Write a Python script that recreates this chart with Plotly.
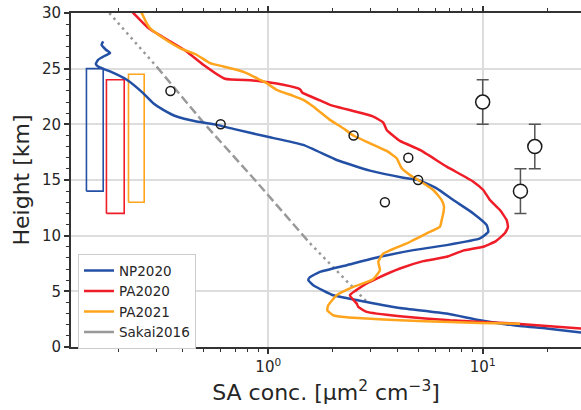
import plotly.graph_objects as go
import math

# ---------------- data ----------------
np2020_h = [27.45, 27.15, 26.70, 26.40, 26.16, 25.80, 25.44, 25.20, 24.99, 24.75,
            24.00, 22.80, 21.90, 21.30, 20.70, 20.25, 19.95, 19.59, 18.90, 18.15,
            16.80, 15.84, 15.21, 15.00, 14.25, 13.20, 12.00, 10.95, 10.35, 9.75,
            9.15, 8.70, 8.10, 7.35, 6.75, 6.27, 6.00, 5.55, 4.65, 4.05,
            3.51, 3.01, 2.40, 1.95, 1.66, 1.30, 1.14]
np2020_v = [0.170, 0.167, 0.175, 0.183, 0.173, 0.161, 0.157, 0.161, 0.170, 0.183,
            0.219, 0.261, 0.291, 0.324, 0.374, 0.463, 0.575, 0.687, 0.983, 1.456,
            2.085, 2.981, 4.263, 5.007, 6.101, 7.293, 9.040, 10.44, 10.62, 9.714,
            6.795, 4.747, 3.319, 2.321, 1.742, 1.565, 1.537, 1.622, 2.010, 2.877,
            4.114, 6.795, 9.714, 13.89, 19.89, 28.74, 35.25]

pa2020_h = [30.48, 30.00, 28.65, 27.45, 26.55, 25.35, 24.09, 23.94, 23.55, 23.16,
            22.83, 22.15, 21.75, 20.70, 20.16, 19.50, 18.51, 17.70, 16.20, 14.85,
            14.10, 13.20, 12.30, 11.40, 10.77, 10.23, 9.51, 9.00, 8.66, 8.10,
            7.71, 7.05, 6.15, 5.70, 4.65, 3.91, 3.60, 3.15, 2.76, 2.40,
            2.11, 1.66, 1.55]
pa2020_v = [0.222, 0.235, 0.276, 0.348, 0.416, 0.498, 0.628, 0.851, 1.175, 1.406,
            1.444, 1.742, 1.940, 3.089, 3.439, 3.567, 4.114, 5.100, 6.795, 9.040,
            10.06, 10.81, 12.04, 12.94, 13.12, 12.71, 11.53, 10.06, 8.120, 6.795,
            5.284, 4.114, 3.203, 2.877, 2.405, 2.585, 2.629, 2.877, 4.114, 7.039,
            13.89, 28.74, 35.25]

pa2021_h = [30.48, 30.00, 29.10, 28.65, 27.75, 26.85, 26.25, 25.50, 25.20, 24.90,
            24.60, 24.00, 23.70, 23.10, 22.56, 22.20, 21.60, 21.12, 20.40, 19.65,
            19.00, 18.30, 17.61, 16.95, 16.05, 15.45, 15.00, 14.10, 13.20, 12.60,
            12.00, 11.40, 10.80, 10.20, 9.60, 9.30, 8.40, 7.65, 6.90, 6.09,
            5.40, 4.65, 3.75, 3.30, 2.85, 2.67, 2.56, 2.40, 2.25, 2.16, 2.09]
pa2021_v = [0.247, 0.257, 0.271, 0.281, 0.324, 0.387, 0.463, 0.535, 0.617, 0.712,
            0.793, 0.915, 0.983, 1.094, 1.308, 1.456, 1.622, 1.742, 1.940, 2.238,
            2.491, 2.981, 3.567, 3.971, 4.190, 4.580, 5.007, 5.883, 6.439, 6.600,
            6.550, 6.439, 6.322, 5.482, 4.747, 4.421, 3.439, 3.259, 3.319, 3.089,
            2.491, 2.085, 1.905, 1.885, 2.010, 2.321, 2.877, 4.114, 7.039, 9.714, 14.93]

# Sakai2016 profile: upper (dotted), middle (dashed), lower (dotted)
sakai_upper_h = [30.0, 28.93, 25.18]
sakai_upper_v = [0.1815, 0.2034, 0.3017]
sakai_mid_h = [25.18, 20.0, 15.0, 9.32]
sakai_mid_v = [0.3017, 0.507, 0.867, 1.565]
sakai_lower_h = [9.32, 3.93]
sakai_lower_v = [1.565, 2.927]

# range boxes (x from-to, height from-to)
box_names = ["NP2020", "PA2020", "PA2021"]
box_x0 = [0.142, 0.176, 0.223]
box_x1 = [0.170, 0.213, 0.264]
box_h0 = [14.0, 12.0, 13.0]
box_h1 = [25.0, 24.0, 24.5]

# small open circles
pts_v = [0.35, 0.60, 2.5, 4.5, 5.0, 3.5]
pts_h = [23.0, 20.0, 19.0, 17.0, 15.0, 13.0]

# large circles with error bars
big_v = [10.0, 17.5, 15.0]
big_h = [22.0, 18.0, 14.0]
big_err = [2.0, 2.0, 2.0]

series_names = ["NP2020", "PA2020", "PA2021", "Sakai2016"]
colors = {"NP2020": "#2350a5", "PA2020": "#ee1d27", "PA2021": "#ffa41c", "Sakai2016": "#999999"}

x_tickvals = [1, 10]
x_ticktext = ["10<sup>0</sup>", "10<sup>1</sup>"]
x_minor = [0.2, 0.3, 0.4, 0.5, 0.6, 0.7, 0.8, 0.9, 2, 3, 4, 5, 6, 7, 8, 9, 20]
y_tickvals = [0, 5, 10, 15, 20, 25, 30]
x_range = [0.1203, 28.74]
y_range = [0, 30]

# ---------------- figure ----------------
fig = go.Figure()
FONT = "DejaVu Sans"
TXT = "#262626"

# boxes
for name, a, b, c, d in zip(box_names, box_x0, box_x1, box_h0, box_h1):
    fig.add_trace(go.Scatter(x=[a, b, b, a, a], y=[c, c, d, d, c], mode="lines",
                             line=dict(color=colors[name], width=1.6),
                             showlegend=False, hoverinfo="skip"))

# Sakai
fig.add_trace(go.Scatter(x=sakai_upper_v, y=sakai_upper_h, mode="lines",
                         line=dict(color=colors["Sakai2016"], width=2.5, dash="2.5px,4px"),
                         showlegend=False))
fig.add_trace(go.Scatter(x=sakai_mid_v, y=sakai_mid_h, mode="lines",
                         line=dict(color=colors["Sakai2016"], width=2.5, dash="9px,4px"),
                         showlegend=False))
fig.add_trace(go.Scatter(x=sakai_lower_v, y=sakai_lower_h, mode="lines",
                         line=dict(color=colors["Sakai2016"], width=2.5, dash="2.5px,4px"),
                         showlegend=False))

# profiles
for name, xv, yv in [("NP2020", np2020_v, np2020_h),
                     ("PA2020", pa2020_v, pa2020_h),
                     ("PA2021", pa2021_v, pa2021_h)]:
    fig.add_trace(go.Scatter(x=xv, y=yv, mode="lines", name=name,
                             line=dict(color=colors[name], width=2.5, shape="spline", smoothing=0.4)))

# legend entry for Sakai
fig.add_trace(go.Scatter(x=[None], y=[None], mode="lines", name="Sakai2016",
                         line=dict(color=colors["Sakai2016"], width=2.5, dash="solid")))

# points
fig.add_trace(go.Scatter(x=pts_v, y=pts_h, mode="markers", showlegend=False,
                         marker=dict(symbol="circle-open", size=9, color="#1a1a1a",
                                     line=dict(width=1.5, color="#1a1a1a"))))
fig.add_trace(go.Scatter(x=big_v, y=big_h, mode="markers", showlegend=False,
                         error_y=dict(type="data", array=big_err, color="#555555",
                                      thickness=1.5, width=6),
                         marker=dict(symbol="circle", size=14, color="white",
                                     line=dict(width=1.5, color="#1a1a1a"))))

fig.update_layout(
    width=581, height=410,
    margin=dict(l=71, r=0, t=13, b=63, autoexpand=False),
    paper_bgcolor="white", plot_bgcolor="white",
    font=dict(family=FONT, size=15, color=TXT),
    showlegend=True,
    legend=dict(x=0.0137, y=0.278, xanchor="left", yanchor="top",
                bgcolor="white", bordercolor="#cccccc", borderwidth=1,
                font=dict(size=13.5, color=TXT)),
)
fig.update_xaxes(
    type="log", range=[math.log10(x_range[0]), math.log10(x_range[1])],
    automargin=False,
    tickvals=x_tickvals, ticktext=x_ticktext,
    ticks="outside", ticklen=5, tickwidth=1.5, tickcolor="#333333",
    showline=True, linecolor="#333333", linewidth=1.8, mirror="ticks",
    showgrid=True, gridcolor="#dddddd", gridwidth=1.5,
    zeroline=False,
    minor=dict(tickvals=x_minor, ticks="outside", ticklen=3, tickwidth=1,
               tickcolor="#333333", showgrid=False),
    title=dict(text="SA conc. [μm<sup>2</sup> cm<sup>−3</sup>]", font=dict(size=22, color=TXT),
               standoff=10),
    tickfont=dict(size=15, color=TXT),
)
fig.update_yaxes(
    range=y_range, tickvals=y_tickvals, automargin=False,
    ticks="outside", ticklen=5, tickwidth=1.5, tickcolor="#333333",
    showline=True, linecolor="#333333", linewidth=1.8,
    showgrid=True, gridcolor="#dddddd", gridwidth=1.5, zeroline=False,
    minor=dict(dtick=1, ticks="outside", ticklen=3, tickwidth=1,
               tickcolor="#333333", showgrid=False),
    title=dict(text="Height [km]", font=dict(size=22, color=TXT), standoff=6),
    tickfont=dict(size=15, color=TXT),
)

fig.write_html("out.html", config={"displayModeBar": False},
               post_script="document.body.style.margin='0';document.body.style.padding='0';")
